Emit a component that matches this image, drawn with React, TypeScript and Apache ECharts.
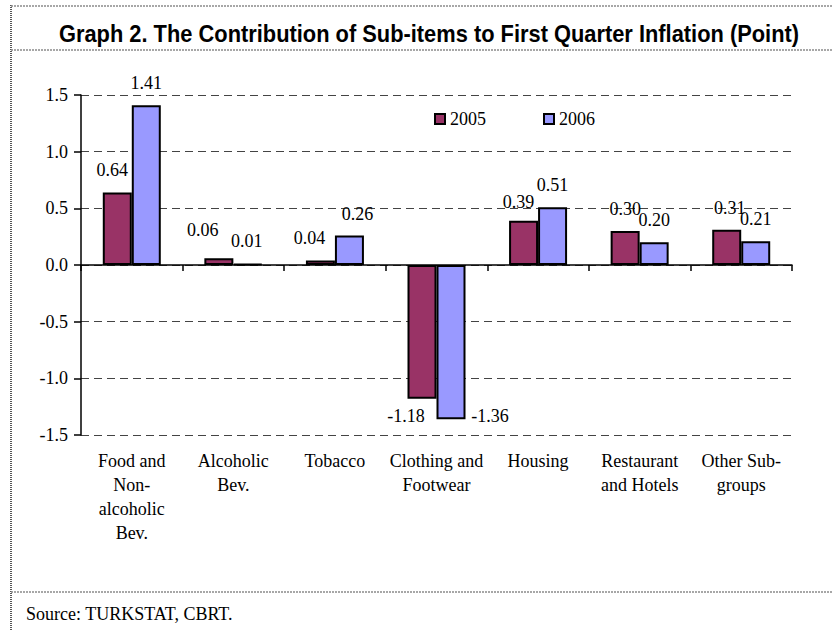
import React, { useEffect, useRef } from "react";
import * as echarts from "echarts";

const categories = [
  "Food and\nNon-\nalcoholic\nBev.",
  "Alcoholic\nBev.",
  "Tobacco",
  "Clothing and\nFootwear",
  "Housing",
  "Restaurant\nand Hotels",
  "Other Sub-\ngroups",
];
const seriesNames = ["2005", "2006"];
const values2005 = [0.64, 0.06, 0.04, -1.18, 0.39, 0.3, 0.31];
const values2006 = [1.41, 0.01, 0.26, -1.36, 0.51, 0.2, 0.21];
const yMin = -1.5;
const yMax = 1.5;
const yInterval = 0.5;

const titleText = "Graph 2. The Contribution of Sub-items to First Quarter Inflation (Point)";
const sourceText = "Source: TURKSTAT, CBRT.";

// label nudges (style only)
const shift2005: [number, number][] = [[-5, 0], [-16, -6], [-11, 0], [-16, -5], [-5, 3], [0, 0], [3, 0]];
const shift2006: [number, number][] = [[0, 0], [-1, 0], [8, 0], [39, -25], [0, 0], [0, 0], [0, 0]];

const SERIF = "'Liberation Serif', 'Times New Roman', serif";
const SANS = "'Liberation Sans', Arial, sans-serif";

function buildData(values: number[], shifts: [number, number][]) {
  return values.map((v, i) => ({
    value: v,
    label: {
      position: v < 0 ? "bottom" : "top",
      offset: shifts[i],
    },
  }));
}

export default function App() {
  const ref = useRef<HTMLDivElement>(null);
  useEffect(() => {
    if (!ref.current) return;
    const chart = echarts.init(ref.current, undefined, { renderer: "svg" });
    const labelCommon = {
      show: true,
      distance: 13,
      color: "#000",
      fontSize: 18,
      fontFamily: SERIF,
      formatter: (p: any) => Number(p.value).toFixed(2),
    };
    const dotted = { stroke: "#8a8a8a", lineWidth: 1.5, lineDash: [2, 1] };
    chart.setOption({
      animation: false,
      backgroundColor: "#fff",
      grid: { left: 81, right: 40, top: 95, bottom: 196, containLabel: false },
      legend: {
        data: seriesNames,
        left: 429,
        top: 105,
        icon: "rect",
        itemWidth: 10,
        itemHeight: 10,
        itemGap: 57,
        textStyle: { fontSize: 18, fontFamily: SERIF, color: "#000" },
      },
      xAxis: [
        {
          type: "category",
          data: categories,
          position: "bottom",
          axisLine: { show: false, onZero: false },
          axisTick: { show: false },
          axisLabel: {
            interval: 0,
            fontSize: 18,
            lineHeight: 24,
            margin: 14,
            color: "#000",
            fontFamily: SERIF,
          },
        },
        {
          type: "category",
          data: categories,
          position: "bottom",
          axisLine: { show: true, onZero: true, lineStyle: { color: "#000", width: 1.5 } },
          axisTick: { show: true, length: 6, interval: 0, lineStyle: { color: "#000", width: 1.5 } },
          axisLabel: { show: false },
          splitLine: { show: false },
        },
      ],
      yAxis: {
        type: "value",
        min: yMin,
        max: yMax,
        interval: yInterval,
        axisLine: { show: true, lineStyle: { color: "#000", width: 1.5 } },
        axisTick: { show: true, length: 7, lineStyle: { color: "#000", width: 1.5 } },
        axisLabel: {
          formatter: (v: number) => v.toFixed(1),
          fontSize: 18,
          margin: 13,
          color: "#000",
          fontFamily: SERIF,
        },
        splitLine: { show: true, lineStyle: { type: [8, 5], color: "#444", width: 1 } },
      },
      series: [
        {
          name: seriesNames[0],
          type: "bar",
          xAxisIndex: 0,
          barWidth: 29,
          barGap: "0%",
          data: buildData(values2005, shift2005),
          itemStyle: { color: "#993366", borderColor: "#000", borderWidth: 2 },
          label: labelCommon,
        },
        {
          name: seriesNames[1],
          type: "bar",
          xAxisIndex: 0,
          barWidth: 29,
          barGap: "0%",
          data: buildData(values2006, shift2006),
          itemStyle: { color: "#9999ff", borderColor: "#000", borderWidth: 2 },
          label: labelCommon,
        },
      ],
      graphic: [
        { type: "line", shape: { x1: 11, y1: 5, x2: 11, y2: 631 }, style: { stroke: "#555", lineWidth: 2, lineDash: [1, 1] } },
        { type: "line", shape: { x1: 11, y1: 6, x2: 832, y2: 6 }, style: dotted },
        { type: "line", shape: { x1: 11, y1: 50, x2: 832, y2: 50 }, style: dotted },
        { type: "line", shape: { x1: 11, y1: 592, x2: 832, y2: 592 }, style: dotted },
        {
          type: "text",
          x: 429,
          y: 34,
          scaleX: 0.95,
          style: {
            text: titleText,
            fontSize: 23,
            fontWeight: "bold",
            fontFamily: SANS,
            fill: "#000",
            textAlign: "center",
            textVerticalAlign: "middle",
          },
        },
        {
          type: "text",
          x: 26,
          y: 614,
          style: {
            text: sourceText,
            fontSize: 18,
            fontFamily: SERIF,
            fill: "#000",
            textAlign: "left",
            textVerticalAlign: "middle",
          },
        },
      ],
    });
    return () => chart.dispose();
  }, []);
  return (
    <div
      ref={ref}
      style={{ position: "fixed", left: 0, top: 0, width: 832, height: 631, background: "#fff" }}
    />
  );
}
